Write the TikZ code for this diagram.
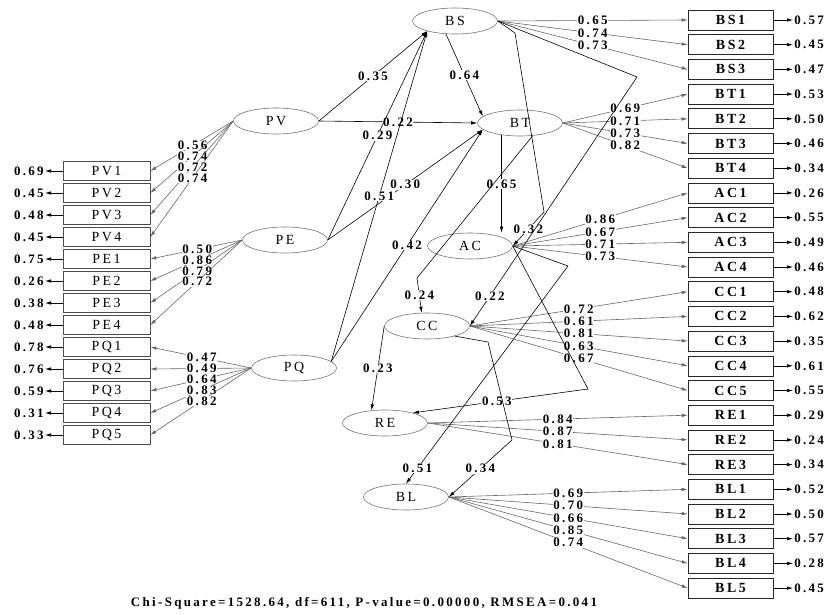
\documentclass[tikz,border=0pt]{standalone}
\usepackage{fontspec}
\setmainfont{Liberation Serif}
\newfontfamily\lisrel[LetterSpace=18]{Liberation Serif}
\usetikzlibrary{shapes.geometric,arrows.meta}

\begin{document}
\begin{tikzpicture}[x=1bp,y=-1bp,inner sep=0pt,line width=0.6bp,
  latent/.style={ellipse,draw=black!55,minimum width=85bp,minimum height=26bp,font=\lisrel\fontsize{14}{14}\selectfont},
  lbox/.style={draw=black!70,minimum width=87bp,minimum height=19bp,font=\lisrel\fontsize{14}{14}\selectfont},
  rbox/.style={draw=black!85,minimum width=85bp,minimum height=20bp,font=\lisrel\bfseries\fontsize{14}{14}\selectfont},
  coef/.style={fill=white,inner sep=0.6bp,font=\lisrel\bfseries\fontsize{13}{13}\selectfont},
  errv/.style={inner sep=1bp,font=\lisrel\bfseries\fontsize{13}{13}\selectfont},
  arr/.style={-{Latex[length=6bp,width=3.5bp]}},
  load/.style={arr,draw=black!60}]
\useasboundingbox (0,0) rectangle (827,615);

% latent variables
\node[latent] (BS) at (455,21) {BS};
\node[latent] (PV) at (276,121) {PV};
\node[latent] (BT) at (520,123) {BT};
\node[latent] (PE) at (285,240) {PE};
\node[latent] (AC) at (470,246) {AC};
\node[latent] (CC) at (427,326) {CC};
\node[latent] (PQ) at (294,368) {PQ};
\node[latent] (RE) at (385,423) {RE};
\node[latent] (BL) at (406,497) {BL};

% left indicators
\foreach \nm/\lv/\er/\ld [count=\k from 0] in {PV1/PV/0.69/0.56, PV2/PV/0.45/0.74,
    PV3/PV/0.48/0.72, PV4/PV/0.45/0.74, PE1/PE/0.75/0.50, PE2/PE/0.26/0.86,
    PE3/PE/0.38/0.79, PE4/PE/0.48/0.72, PQ1/PQ/0.78/0.47, PQ2/PQ/0.76/0.49,
    PQ3/PQ/0.59/0.64, PQ4/PQ/0.31/0.83, PQ5/PQ/0.33/0.82}
{
  \node[lbox] (\nm) at (106.5,171+22*\k) {\nm};
  \node[errv,anchor=east] (e\nm) at (45,171+22*\k) {\er};
  \draw[arr] (\nm.west) -- (e\nm.east);
  \draw[load] (\lv.west) -- node[coef,pos=0.49] {\ld} (\nm.east);
}

% right indicators
\foreach \nm/\lv/\er/\ld [count=\k from 0] in {BS1/BS/0.57/0.65, BS2/BS/0.45/0.74,
    BS3/BS/0.47/0.73, BT1/BT/0.53/0.69, BT2/BT/0.50/0.71, BT3/BT/0.46/0.73,
    BT4/BT/0.34/0.82, AC1/AC/0.26/0.86, AC2/AC/0.55/0.67, AC3/AC/0.49/0.71,
    AC4/AC/0.46/0.73, CC1/CC/0.48/0.72, CC2/CC/0.62/0.61, CC3/CC/0.35/0.81,
    CC4/CC/0.61/0.63, CC5/CC/0.55/0.67, RE1/RE/0.29/0.84, RE2/RE/0.24/0.87,
    RE3/RE/0.34/0.81, BL1/BL/0.52/0.69, BL2/BL/0.50/0.70, BL3/BL/0.57/0.66,
    BL4/BL/0.28/0.85, BL5/BL/0.45/0.74}
{
  \node[rbox] (\nm) at (730.5,20+24.7*\k) {\nm};
  \node[errv,anchor=west] (e\nm) at (793,20+24.7*\k) {\er};
  \draw[arr] (\nm.east) -- (e\nm.west);
  \draw[load] (\lv.east) -- node[coef,pos=0.5] {\ld} (\nm.west);
}

% bends of the structural paths
\coordinate (kBSa) at (515,33);
\coordinate (kBSb) at (544,212);
\coordinate (kBSc) at (637,77);
\coordinate (kBT) at (417,278);
\coordinate (kACa) at (588,389);
\coordinate (kACb) at (568,266);
\coordinate (kCCa) at (488,342);
\coordinate (kCCb) at (512,440);

% structural paths
\draw[arr] (PV.east) -- node[coef] {0.35} (BS.200);
\draw[arr] (PV.east) -- node[coef] {0.22} (BT.west);
\draw[arr] (PE.east) -- node[coef] {0.29} (BS.200);
\draw[arr] (PE.east) -- node[coef] {0.30} (BT.190);
\draw[arr] (PQ.10) -- node[coef] {0.51} (BS.200);
\draw[arr] (PQ.10) -- node[coef] {0.42} (BT.190);
\draw[arr] (BS.235) -- node[coef] {0.64} (BT.170);
\draw[arr] (BT.213) -- node[coef] {0.65} (BT.213 |- AC.north);
\draw[arr] (BS.east) -- (kBSa) -- (kBSb) -- node[coef] {0.32} (AC.east);
\draw[arr] (BS.east) -- (kBSc) -- node[coef,pos=0.88] {0.22} (CC.east);
\draw[arr] (BT.-45) -- (kBT) -- node[coef] {0.24} (CC.112);
\draw[arr] (CC.west) -- node[coef] {0.23} (RE.137);
\draw[arr] (AC.east) -- (kACa) -- node[coef,pos=0.52] {0.53} (RE.20);
\draw[arr] (AC.east) -- (kACb) -- node[coef,pos=0.93] {0.51} (BL.north);
\draw[arr] (CC.-20) -- (kCCa) -- (kCCb) -- node[coef] {0.34} (BL.east);

\node[errv] (fit) at (364,603) {Chi-Square=1528.64, df=611, P-value=0.00000, RMSEA=0.041};
\end{tikzpicture}
\end{document}
